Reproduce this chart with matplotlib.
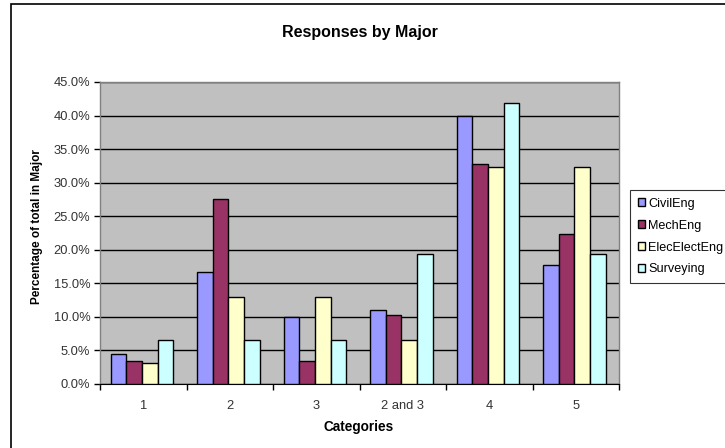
import matplotlib
matplotlib.use("Agg")
import matplotlib.pyplot as plt
import numpy as np
from matplotlib.patches import Rectangle

categories = ["1", "2", "3", "2 and 3", "4", "5"]
series_names = ["CivilEng", "MechEng", "ElecElectEng", "Surveying"]
civil_eng = [4.4, 16.7, 10.0, 11.1, 40.0, 17.8]
mech_eng = [3.4, 27.6, 3.4, 10.3, 32.8, 22.4]
elec_elect_eng = [3.2, 12.9, 12.9, 6.5, 32.3, 32.3]
surveying = [6.5, 6.5, 6.5, 19.4, 41.9, 19.4]
y_ticks = [0, 5, 10, 15, 20, 25, 30, 35, 40, 45]
colors = ["#9999FF", "#993366", "#FFFFCC", "#CCFFFF"]

plt.rcParams["font.family"] = ["Liberation Sans", "DejaVu Sans"]

W, H = 725, 448
fig = plt.figure(figsize=(W / 100, H / 100), dpi=100)
fig.patch.set_facecolor("white")

# outer chart frame (extends past the right/bottom edges)
fig.add_artist(Rectangle((11 / W, -0.05), 1.2, 1.05 - 4 / H,
                         transform=fig.transFigure, fill=False,
                         edgecolor="black", linewidth=1.2))

left, right, top, bottom = 100, 619, 82, 384
ax = fig.add_axes([left / W, 1 - bottom / H, (right - left) / W, (bottom - top) / H])
ax.set_facecolor("#C0C0C0")

data = [civil_eng, mech_eng, elec_elect_eng, surveying]
x = np.arange(len(categories))
bw = 0.18
for i, (vals, c, name) in enumerate(zip(data, colors, series_names)):
    ax.bar(x + (i - 1.5) * bw - 0.015, vals, width=bw, color=c,
           edgecolor="black", linewidth=1.0, label=name, zorder=3)

ax.set_xlim(-0.5, len(categories) - 0.5)
ax.set_ylim(0, 45)
ax.set_yticks(y_ticks)
ax.set_yticklabels([f"{v:.1f}%" for v in y_ticks], fontsize=9.3, color="#333333")
ax.yaxis.grid(True, color="black", linewidth=1.0, zorder=1)
ax.set_axisbelow(True)

ax.set_xticks(x)
ax.set_xticklabels(categories, fontsize=9.3, color="#333333")
ax.set_xticks(np.arange(len(categories) + 1) - 0.5, minor=True)
ax.tick_params(axis="x", which="major", length=0, pad=11.5)
ax.tick_params(axis="x", which="minor", length=4, width=1, direction="out")
ax.tick_params(axis="y", length=4, width=1, direction="out", pad=3)

for s in ["top", "right", "left"]:
    ax.spines[s].set_color("#808080")
    ax.spines[s].set_linewidth(1.0)
ax.spines["bottom"].set_color("black")

fig.text(0.5 * (left + right) / W - 0.5 / W, 1 - 427 / H, "Categories",
         ha="center", va="center", fontsize=9.8, fontweight="bold")
fig.text(37 / W, 1 - 227 / H, "Percentage of total in Major", rotation=90,
         ha="center", va="center", fontsize=8.5, fontweight="bold")

fig.text(0.5 * (left + right) / W, 1 - 33 / H, "Responses by Major",
         ha="center", va="center", fontsize=11.5, fontweight="bold")

leg = fig.legend(loc="upper left", bbox_to_anchor=(630 / W, 1 - 190 / H),
                 fontsize=9.1, frameon=True, fancybox=False, edgecolor="black",
                 handlelength=0.6, handleheight=0.6, handletextpad=0.2,
                 labelspacing=0.78, borderpad=0.62, borderaxespad=0)
leg.get_frame().set_linewidth(0.8)

fig.savefig("out.png", dpi=100, facecolor="white")
